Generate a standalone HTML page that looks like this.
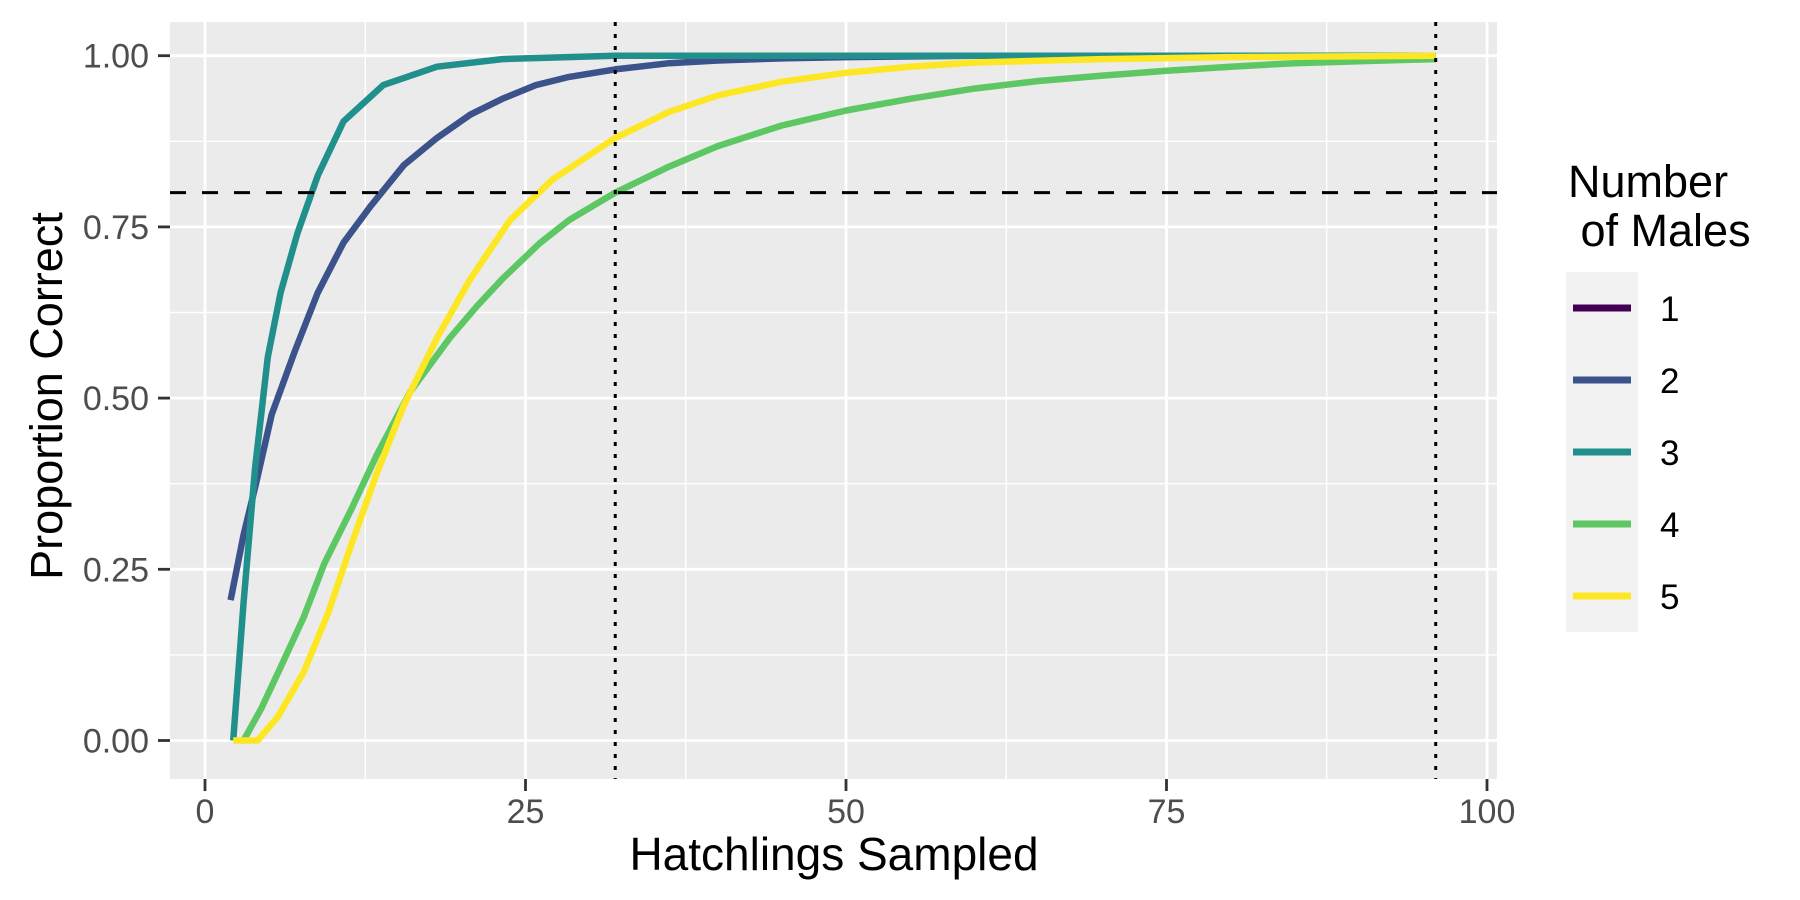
<!DOCTYPE html>
<html><head><meta charset="utf-8"><style>
html,body{margin:0;padding:0;background:#fff;}
svg{display:block;font-family:"Liberation Sans",Arial,sans-serif;}
</style></head><body>
<svg id="chart" width="1800" height="900" xmlns="http://www.w3.org/2000/svg">
<rect x="170" y="22" width="1327" height="757" fill="#ebebeb"/>
<g id="grid"></g>
<g id="series"></g>
<g id="refs"></g>
<g id="axes"></g>
<text x="834" y="870" font-size="46" text-anchor="middle" fill="#000">Hatchlings Sampled</text>
<text transform="translate(62,396) rotate(-90)" font-size="45" text-anchor="middle" fill="#000">Proportion Correct</text>
<g>
<text x="1568" y="197" font-size="45" fill="#000">Number</text>
<text x="1568" y="246" font-size="45" fill="#000" xml:space="preserve"> of Males</text>
<rect x="1566" y="272" width="72" height="360" fill="#f2f2f2"/>
<g id="legend-items"></g>
</g>
</svg>
<script>
const seriesNames = ["1","2","3","4","5"];
const seriesColors = ["#440154","#3b528b","#21908c","#5dc863","#fde725"];
const xTicks = [0,25,50,75,100];
const xTickLabels = ["0","25","50","75","100"];
const yTicks = [0,0.25,0.5,0.75,1];
const yTickLabels = ["0.00","0.25","0.50","0.75","1.00"];
const refY = 0.8;
const refX = [32,96];

const s1x = [];
const s1y = [];
const s2x = [2,3,4,5.2,7,8.8,10.8,12.9,15.5,18.1,20.7,23.2,25.8,28.4,32,36.2,40,45,50,60,70,96];
const s2y = [0.205,0.3,0.377,0.476,0.568,0.654,0.727,0.78,0.84,0.88,0.914,0.937,0.957,0.969,0.98,0.989,0.993,0.996,0.998,1,1,1];
const s3x = [2.2,3,3.9,4.9,5.9,7.2,8.8,10.8,13.9,18.1,23.2,32,40,96];
const s3y = [0,0.2,0.397,0.56,0.654,0.74,0.825,0.904,0.957,0.984,0.995,1,1,1];
const s4x = [3,4.4,5.9,7.7,9.3,11.4,13.4,16,19.1,21.2,23.2,26.1,28.4,32,36.2,40,45,50,55,60,65,70,75,80,85,90,96];
const s4y = [0,0.047,0.107,0.18,0.258,0.337,0.417,0.509,0.588,0.634,0.674,0.726,0.76,0.8,0.838,0.868,0.898,0.92,0.937,0.952,0.963,0.971,0.978,0.984,0.989,0.992,0.995];
const s5x = [2.2,4.1,5.7,7.7,9.6,11.4,13.4,15.5,18.1,20.7,23.8,27.1,32,36.2,40,45,50,55,60,70,80,96];
const s5y = [0,0,0.035,0.1,0.186,0.285,0.39,0.489,0.588,0.674,0.76,0.819,0.88,0.918,0.942,0.962,0.975,0.984,0.99,0.995,0.998,1];
const allX = [s1x,s2x,s3x,s4x,s5x];
const allY = [s1y,s2y,s3y,s4y,s5y];

const NS = "http://www.w3.org/2000/svg";
const X0 = 205, XK = 12.82;
const Y0 = 740.5, Y1 = 55.7;
function sx(v){return X0 + v*XK;}
function sy(v){return Y0 + (Y1-Y0)*v;}
function mk(tag, attrs, parent){
  const e = document.createElementNS(NS, tag);
  for (const k in attrs) e.setAttribute(k, attrs[k]);
  parent.appendChild(e);
  return e;
}
const grid = document.getElementById('grid');
for (let i=0;i<xTicks.length-1;i++){
  const m = (xTicks[i]+xTicks[i+1])/2;
  const l = mk('line',{x1:sx(m),x2:sx(m),y1:22,y2:779,stroke:'#fff','stroke-width':1.4},grid);
  
  
}
for (let i=0;i<yTicks.length-1;i++){
  const m = (yTicks[i]+yTicks[i+1])/2;
  const l = mk('line',{x1:170,x2:1497,y1:sy(m),y2:sy(m),stroke:'#fff','stroke-width':1.4},grid);
  
  
}
const axes = document.getElementById('axes');
xTicks.forEach((t,i)=>{
  const l = mk('line',{x1:sx(t),x2:sx(t),y1:22,y2:779,stroke:'#fff','stroke-width':2.8},grid);
  
  
  const tk = mk('line',{x1:sx(t),x2:sx(t),y1:779,y2:791,stroke:'#333','stroke-width':2.8},axes);
  
  
  const tx = mk('text',{x:sx(t),y:823,'font-size':34,'text-anchor':'middle',fill:'#4d4d4d'},axes);
  tx.textContent = xTickLabels[i];
  
  
});
yTicks.forEach((t,i)=>{
  const l = mk('line',{x1:170,x2:1497,y1:sy(t),y2:sy(t),stroke:'#fff','stroke-width':2.8},grid);
  
  
  const tk = mk('line',{x1:158,x2:170,y1:sy(t),y2:sy(t),stroke:'#333','stroke-width':2.8},axes);
  
  
  const tx = mk('text',{x:149,y:sy(t)+12,'font-size':34,'text-anchor':'end',fill:'#4d4d4d'},axes);
  tx.textContent = yTickLabels[i];
  
  
});
const series = document.getElementById('series');
allX.forEach((xs,si)=>{
  if (!xs.length) return;
  const pts = xs.map((x,j)=>sx(x).toFixed(1)+','+sy(allY[si][j]).toFixed(1)).join(' ');
  const p = mk('polyline',{points:pts,fill:'none',stroke:seriesColors[si],'stroke-width':6.5,'stroke-linejoin':'round'},series);
  
  
});
const refs = document.getElementById('refs');
const h = mk('line',{x1:170,x2:1497,y1:sy(refY),y2:sy(refY),stroke:'#000','stroke-width':3,'stroke-dasharray':'16,16'},refs);


refX.forEach(v=>{
  const l = mk('line',{x1:sx(v),x2:sx(v),y1:22,y2:779,stroke:'#000','stroke-width':3,'stroke-dasharray':'4,8'},refs);
  
  
});
const li = document.getElementById('legend-items');
seriesNames.forEach((n,i)=>{
  const y = 308 + i*72;
  const l = mk('line',{x1:1573,x2:1631,y1:y,y2:y,stroke:seriesColors[i],'stroke-width':7},li);
  
  
  const t = mk('text',{x:1660,y:y+13,'font-size':35,fill:'#000'},li);
  t.textContent = n;
  
  
});
</script>
</body></html>
